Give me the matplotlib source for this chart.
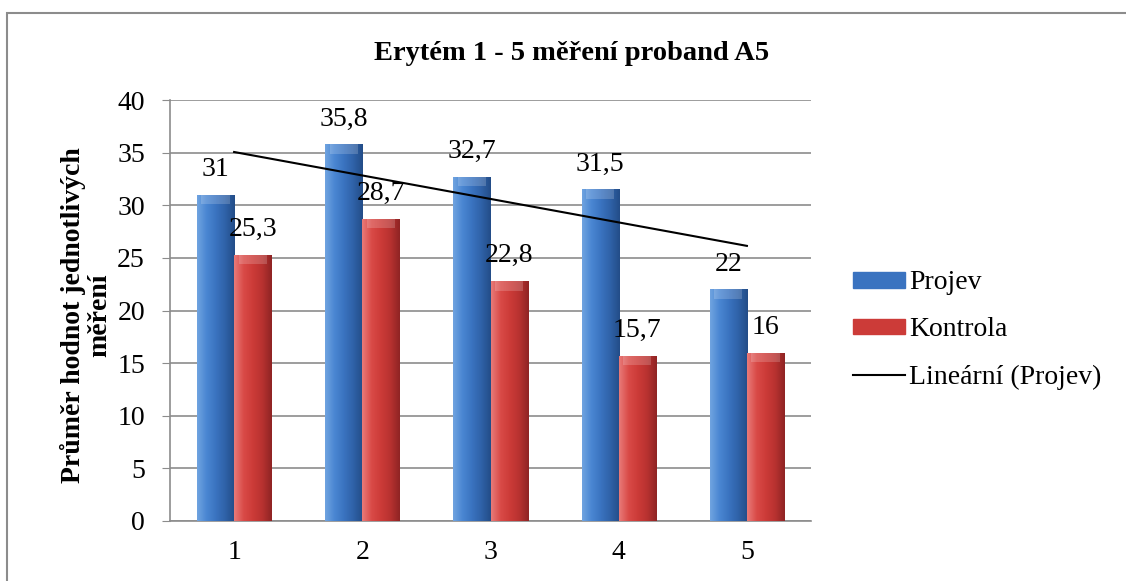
import numpy as np
import matplotlib
matplotlib.use("Agg")
import matplotlib.pyplot as plt
from matplotlib.colors import LinearSegmentedColormap
from matplotlib.patches import Rectangle
from matplotlib.lines import Line2D

categories = ["1", "2", "3", "4", "5"]
projev = [31, 35.8, 32.7, 31.5, 22]
kontrola = [25.3, 28.7, 22.8, 15.7, 16]
yticks = [0, 5, 10, 15, 20, 25, 30, 35, 40]
title = "Erytém 1 - 5 měření proband A5"
ylabel = "Průměr hodnot jednotlivých\nměření"
legend_labels = ["Projev", "Kontrola", "Lineární (Projev)"]

plt.rcParams['font.family'] = ['Liberation Serif', 'DejaVu Serif']
FS = 20

fig = plt.figure(figsize=(11.26, 5.81), dpi=100)
fig.patches.append(Rectangle((7/1126, -0.05), 1.2, 1 - 13/581 + 0.05, transform=fig.transFigure,
                             fill=False, edgecolor='#8c8c8c', lw=1.5))
ax = fig.add_axes([170/1126, 1-521/581, 641/1126, 421/581])

x = np.arange(1, len(categories) + 1)
w = 0.29
blue_cmap = LinearSegmentedColormap.from_list("b", ["#6fa3e0", "#4a86d2", "#3a73c0", "#2f62a8", "#234d88"])
red_cmap = LinearSegmentedColormap.from_list("r", ["#e87a78", "#d94a47", "#cc3b38", "#b83230", "#8f2424"])

b1 = ax.bar(x - w/2, projev, w, color='#3a73c0', zorder=2)
b2 = ax.bar(x + w/2, kontrola, w, color='#cc3b38', zorder=2)

grad = np.linspace(0, 1, 64).reshape(1, -1)
for bars, cmap in ((b1, blue_cmap), (b2, red_cmap)):
    for p in bars:
        x0, wd, h = p.get_x(), p.get_width(), p.get_height()
        im = ax.imshow(grad, cmap=cmap, extent=[x0, x0 + wd, 0, h], aspect='auto', zorder=3)
        im.set_clip_path(p)
        ax.add_patch(Rectangle((x0 + wd*0.12, h - 0.9), wd*0.76, 0.9, color='white', alpha=0.18, lw=0, zorder=4))

for xi, v in zip(x - w/2, projev):
    ax.text(xi, v + 1.2, f"{v:g}".replace('.', ','), ha='center', va='bottom', fontsize=FS, zorder=6)
for xi, v in zip(x + w/2, kontrola):
    ax.text(xi, v + 1.2, f"{v:g}".replace('.', ','), ha='center', va='bottom', fontsize=FS, zorder=6)

coef = np.polyfit(x, projev, 1)
ax.plot(x, np.polyval(coef, x), color='black', lw=1.5, zorder=5)

ax.set_xlim(0.5, len(categories) + 0.5)
ax.set_ylim(0, 40)
ax.set_yticks(yticks)
ax.set_yticklabels([str(t) for t in yticks], fontsize=FS)
ax.set_xticks(x)
ax.set_xticklabels(categories, fontsize=FS)
ax.tick_params(axis='x', length=0, pad=14)
ax.tick_params(axis='y', length=6, color='#8c8c8c', pad=12)
ax.yaxis.grid(True, color='#8c8c8c', lw=1.2, zorder=0)
ax.set_axisbelow(True)
for s in ['top', 'right']:
    ax.spines[s].set_visible(False)
for s in ['left', 'bottom']:
    ax.spines[s].set_color('#8c8c8c')
    ax.spines[s].set_linewidth(1.2)

fig.text(572/1126, 1-60/581, title, ha='center', va='baseline', fontsize=20.5, fontweight='bold')
fig.text(86/1126, 1-315/581, ylabel, ha='center', va='center', fontsize=FS, fontweight='bold',
         rotation=90, linespacing=1.05)

handles = [Rectangle((0, 0), 1, 1, color='#3a73c0'), Rectangle((0, 0), 1, 1, color='#cc3b38'),
           Line2D([0], [0], color='black', lw=1.5)]
fig.legend(handles, legend_labels, loc='center left', bbox_to_anchor=(853/1126, 1-330/581),
           frameon=False, fontsize=FS, handlelength=1.87, handleheight=0.5, handletextpad=0.15,
           labelspacing=0.79, borderaxespad=0, borderpad=0)

fig.savefig("out.png", dpi=100)
